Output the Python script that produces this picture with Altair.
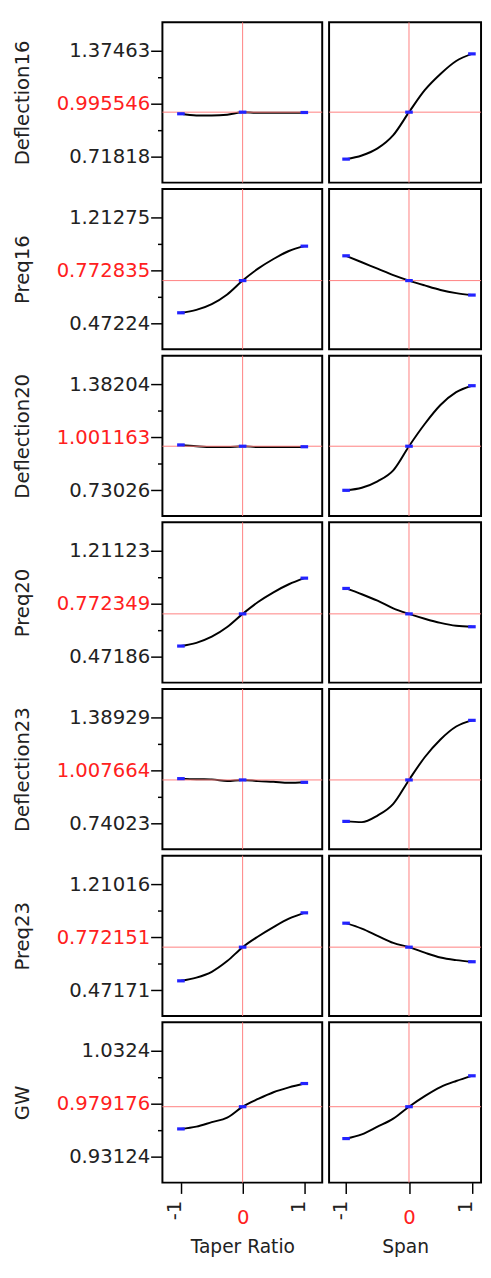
import altair as alt
import pandas as pd

# ---------------- data ----------------
responses = ["Deflection16", "Preq16", "Deflection20", "Preq20",
             "Deflection23", "Preq23", "GW"]
factors = ["Taper Ratio", "Span"]

current_values = [0.995546, 0.772835, 1.001163, 0.772349, 1.007664, 0.772151, 0.979176]
current_labels = ["0.995546", "0.772835", "1.001163", "0.772349", "1.007664", "0.772151", "0.979176"]
tick_lo = [0.71818, 0.47224, 0.73026, 0.47186, 0.74023, 0.47171, 0.93124]
tick_lo_labels = ["0.71818", "0.47224", "0.73026", "0.47186", "0.74023", "0.47171", "0.93124"]
tick_hi = [1.37463, 1.21275, 1.38204, 1.21123, 1.38929, 1.21016, 1.0324]
tick_hi_labels = ["1.37463", "1.21275", "1.38204", "1.21123", "1.38929", "1.21016", "1.0324"]

x_grid = [-1, -0.75, -0.5, -0.25, 0, 0.25, 0.5, 0.75, 1]
x_ticks = [-1, 0, 1]

taper_profiles = [
    [0.9855, 0.9755, 0.9755, 0.9795, 0.995546, 0.9915, 0.9915, 0.9915, 0.9935],
    [0.5484, 0.5686, 0.6090, 0.6763, 0.772835, 0.8559, 0.9232, 0.9793, 1.0129],
    [1.0091, 1.0012, 0.9960, 0.9958, 1.001163, 0.9960, 0.9960, 0.9960, 0.9980],
    [0.5483, 0.5707, 0.6133, 0.6805, 0.772349, 0.8552, 0.9225, 0.9785, 1.0210],
    [1.0156, 1.0116, 1.0110, 1.0010, 1.007664, 1.0005, 0.9960, 0.9899, 0.9930],
    [0.5380, 0.5605, 0.6010, 0.6753, 0.772151, 0.8464, 0.9117, 0.9703, 1.0108],
    [0.95802, 0.96017, 0.96446, 0.96876, 0.979176, 0.98653, 0.99297, 0.99757, 1.00125],
]
span_profiles = [
    [0.7053, 0.7274, 0.7714, 0.8534, 0.995546, 1.1316, 1.2317, 1.3118, 1.3558],
    [0.9456, 0.9007, 0.8559, 0.8110, 0.772835, 0.7392, 0.7077, 0.6853, 0.6719],
    [0.7306, 0.7464, 0.7859, 0.8530, 1.001163, 1.1374, 1.2540, 1.3330, 1.3725],
    [0.9493, 0.9090, 0.8642, 0.8104, 0.772349, 0.7387, 0.7096, 0.6894, 0.6827],
    [0.7544, 0.7500, 0.7900, 0.8613, 1.007664, 1.1462, 1.2550, 1.3342, 1.3718],
    [0.9388, 0.9005, 0.8510, 0.8014, 0.772151, 0.7339, 0.7001, 0.6821, 0.6708],
    [0.94883, 0.95282, 0.96017, 0.96784, 0.979176, 0.98929, 0.99788, 1.00370, 1.00861],
]

# ---------------- styling ----------------
FONT = "DejaVu Sans"
RED = "#ff2020"
PINK = "#ff7f7f"
TXT = "#222222"
BLUE = "#2323ff"
H = 163.5
WIDTHS = [163, 155]
X_DOMAINS = [[-1.30, 1.29], [-1.27, 1.145]]


def panel(i, j):
    prof = taper_profiles[i] if j == 0 else span_profiles[i]
    lo, hi = tick_lo[i], tick_hi[i]
    s = hi - lo
    dom = [lo - s * 26.5 / 110, hi + s * 29.5 / 110]
    mid = (lo + hi) / 2
    vals = [lo, lo + s / 4, mid, lo + 3 * s / 4, hi]
    eps = s * 1e-3

    line_df = pd.DataFrame({"x": x_grid, "y": prof})
    mark_df = pd.DataFrame({"x": x_ticks, "y": [prof[0], prof[4], prof[-1]]})

    yscale = alt.Scale(domain=dom, nice=False, zero=False)
    xscale = alt.Scale(domain=X_DOMAINS[j], nice=False, zero=False)

    if j == 0:
        is_minor = (f"abs(datum.value - {vals[1]}) < {eps} || "
                    f"abs(datum.value - {vals[3]}) < {eps}")
        is_mid = f"abs(datum.value - {mid}) < {eps}"
        label_expr = (f"abs(datum.value - {lo}) < {eps} ? '{tick_lo_labels[i]}' : "
                      f"{is_mid} ? '{current_labels[i]}' : "
                      f"abs(datum.value - {hi}) < {eps} ? '{tick_hi_labels[i]}' : ''")
        yaxis = alt.Axis(
            values=vals, labelExpr=label_expr, title=responses[i],
            domain=False, grid=False,
            tickColor="black", tickWidth=1.5, tickSize=12,
            tickDash={"condition": {"test": is_minor, "value": [5, 20]}, "value": [20, 0]},
            labelColor={"condition": {"test": is_mid, "value": RED}, "value": TXT},
            labelFont=FONT, labelFontSize=20, labelPadding=1,
            titleFont=FONT, titleFontSize=20, titleFontWeight="normal",
            titleColor=TXT, titlePadding=24,
        )
    else:
        yaxis = None

    if i == len(responses) - 1:
        is0 = "datum.value == 0"
        xaxis = alt.Axis(
            values=x_ticks, title=factors[j],
            labelExpr="datum.value == 0 ? '0' : (datum.value < 0 ? '-1' : '1')",
            labelAngle=alt.expr("datum.value == 0 ? 0 : 270"),
            labelAlign={"condition": {"test": is0, "value": "center"}, "value": "right"},
            labelBaseline={"condition": {"test": is0, "value": "top"}, "value": "alphabetic"},
            labelPadding={"condition": {"test": is0, "value": 15}, "value": 7},
            labelColor={"condition": {"test": is0, "value": RED}, "value": TXT},
            labelFont=FONT, labelFontSize=20,
            domain=False, grid=False, tickColor="black", tickWidth=1.5, tickSize=11,
            titleFont=FONT, titleFontSize=19, titleFontWeight="normal",
            titleColor=TXT, titlePadding=10,
        )
    else:
        xaxis = None

    x_enc = alt.X("x:Q", scale=xscale, axis=xaxis)
    y_enc = alt.Y("y:Q", scale=yscale, axis=yaxis)

    line = alt.Chart(line_df).mark_line(
        color="black", strokeWidth=2, interpolate="monotone").encode(x=x_enc, y=y_enc)
    vrule = alt.Chart(pd.DataFrame({"x": [0]})).mark_rule(strokeWidth=1).encode(
        x=x_enc, color=alt.value(PINK))
    hrule = alt.Chart(pd.DataFrame({"y": [current_values[i]]})).mark_rule(
        strokeWidth=1).encode(y=y_enc, color=alt.value(PINK))
    pts = alt.Chart(mark_df).mark_point(
        shape="M-1,-0.42H1V0.42H-1Z", filled=True, opacity=1, size=60, color=BLUE
    ).encode(x=x_enc, y=y_enc)

    return alt.layer(line, vrule, hrule, pts).properties(width=WIDTHS[j], height=H)


rows = [alt.hconcat(panel(i, 0), panel(i, 1), spacing=3) for i in range(len(responses))]
chart = alt.vconcat(*rows, spacing=3).properties(
    padding={"left": 3.5, "top": 0, "right": 0, "bottom": 0}
).configure(font=FONT).configure_view(
    stroke="black", strokeWidth=2
)

chart.save("out.html", embed_options={"renderer": "svg", "actions": False})
